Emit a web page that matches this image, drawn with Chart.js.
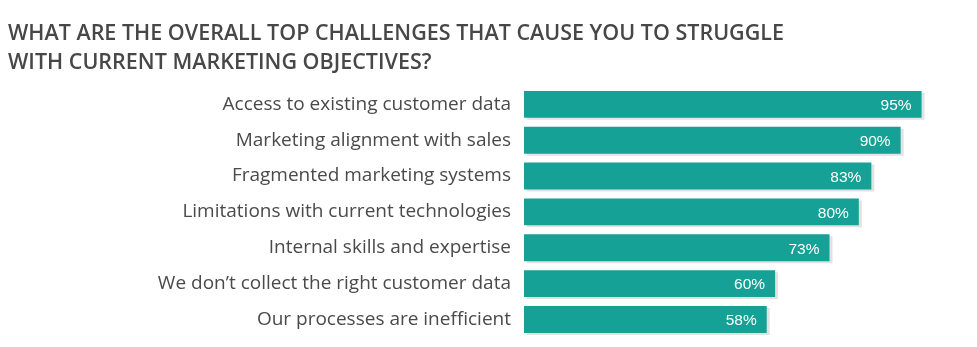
<!DOCTYPE html>
<html>
<head>
<meta charset="utf-8">
<script src="https://cdn.jsdelivr.net/npm/chart.js@4"></script>
<style>
  html, body { margin: 0; padding: 0; background: #ffffff; }
  #wrap { width: 977px; height: 347px; position: relative; }
</style>
</head>
<body>
<div id="wrap"><canvas id="c" width="977" height="347"></canvas></div>
<script>
const titleLines = ['WHAT ARE THE OVERALL TOP CHALLENGES THAT CAUSE YOU TO STRUGGLE', 'WITH CURRENT MARKETING OBJECTIVES?'];
const categories = [
  'Access to existing customer data',
  'Marketing alignment with sales',
  'Fragmented marketing systems',
  'Limitations with current technologies',
  'Internal skills and expertise',
  'We don\u2019t collect the right customer data',
  'Our processes are inefficient'
];
const values = [95, 90, 83, 80, 73, 60, 58];

const shadowPlugin = {
  id: 'barShadow',
  beforeDatasetsDraw(chart) {
    const ctx = chart.ctx;
    ctx.save();
    ctx.shadowColor = '#e2e2e2';
    ctx.shadowOffsetX = 3;
    ctx.shadowOffsetY = 2;
    ctx.shadowBlur = 0;
  },
  afterDatasetsDraw(chart) {
    chart.ctx.restore();
  }
};

const valueLabels = {
  id: 'valueLabels',
  afterDatasetsDraw(chart) {
    const ctx = chart.ctx;
    const meta = chart.getDatasetMeta(0);
    ctx.save();
    ctx.fillStyle = '#ffffff';
    ctx.font = '15.5px "Liberation Sans", Arial, sans-serif';
    ctx.textAlign = 'right';
    ctx.textBaseline = 'middle';
    meta.data.forEach((bar, i) => {
      ctx.fillText(values[i] + '%', bar.x - 10, bar.y + 1.5);
    });
    ctx.restore();
  }
};

new Chart(document.getElementById('c'), {
  type: 'bar',
  data: {
    labels: categories,
    datasets: [{
      data: values,
      backgroundColor: '#16a196',
      borderWidth: 0,
      barPercentage: 0.75,
      categoryPercentage: 1.0
    }]
  },
  options: {
    indexAxis: 'y',
    responsive: false,
    animation: false,
    devicePixelRatio: 1,
    layout: { padding: { left: 8, right: 34.5, top: 19, bottom: 9.6 } },
    plugins: {
      legend: { display: false },
      tooltip: { enabled: false },
      title: {
        display: true,
        text: titleLines,
        align: 'start',
        color: '#474747',
        font: { family: '"Open Sans", sans-serif', size: 21.5, weight: '600', lineHeight: 1.372 },
        padding: { top: 0, bottom: 8.4 }
      }
    },
    scales: {
      x: {
        display: false,
        min: 0,
        max: 100
      },
      y: {
        grid: { display: false, drawTicks: false },
        border: { display: false },
        ticks: {
          color: '#4a4a4a',
          padding: 13,
          font: { family: '"Open Sans", sans-serif', size: 19, weight: '400' }
        },
        afterFit(scale) {
          scale.width = 516;
          scale.paddingTop = 0;
          scale.paddingBottom = 0;
        }
      }
    }
  },
  plugins: [shadowPlugin, valueLabels]
});
</script>
</body>
</html>
